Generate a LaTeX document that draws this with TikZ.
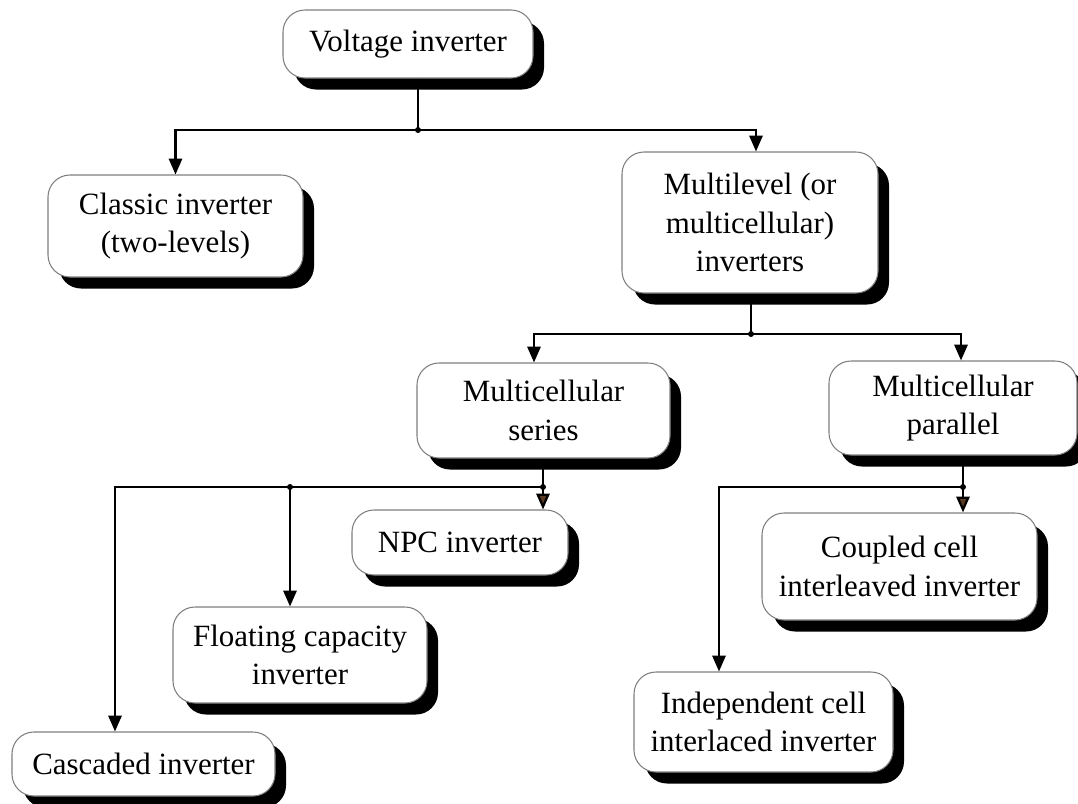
\documentclass[tikz,border=0pt]{standalone}
\usepackage{fontspec}
\setmainfont{Liberation Serif}
\usetikzlibrary{arrows.meta,shadows}
\definecolor{invEdge}{HTML}{7F7F7F}
\definecolor{invTip}{HTML}{5A3A22}
\tikzset{
  inv box/.style={draw=invEdge, line width=0.6pt, fill=white, rounded corners=4.4mm,
    align=center, inner sep=0pt, font=\fontsize{17.6}{22}\selectfont,
    drop shadow={shadow xshift=2.2mm, shadow yshift=-2.3mm, fill=black, opacity=1}},
  inv line/.style={draw=black, line width=1.3pt},
  inv link/.style={inv line, -{Triangle[length=9pt,width=7.5pt]}},
  inv link brown/.style={inv line, -{Triangle[length=9pt,width=7.5pt,fill=invTip]}},
  inv dot/.style={fill=black},
}
\begin{document}
\begin{tikzpicture}[x=0.2mm, y=-0.2mm]
  \useasboundingbox (0,0) rectangle (1078,803);
  % Boxes, top level
  \node[inv box, minimum width=50mm, minimum height=13.6mm] (volt) at (408,44) {Voltage inverter};
  \node[inv box, minimum width=51mm, minimum height=20.4mm] (classic) at (175.5,226) {Classic inverter\\(two-levels)};
  \node[inv box, minimum width=51.2mm, minimum height=28.2mm] (multi) at (750,222.5) {Multilevel (or\\multicellular)\\inverters};
  % Boxes, second level
  \node[inv box, minimum width=50.6mm, minimum height=19mm] (series) at (543.5,410.5) {Multicellular\\series};
  \node[inv box, minimum width=49.6mm, minimum height=18.8mm] (parallel) at (953,408) {Multicellular\\parallel};
  % Boxes, third level
  \node[inv box, minimum width=43.2mm, minimum height=13mm] (npc) at (460,542.5) {NPC inverter};
  \node[inv box, minimum width=50.8mm, minimum height=19.2mm] (floating) at (300,655) {Floating capacity\\inverter};
  \node[inv box, minimum width=52.6mm, minimum height=12.8mm] (cascaded) at (143.5,764) {Cascaded inverter};
  \node[inv box, minimum width=55mm, minimum height=21.4mm] (coupled) at (899.5,566.5) {Coupled cell\\interleaved inverter};
  \node[inv box, minimum width=51.8mm, minimum height=20mm] (indep) at (763.5,722) {Independent cell\\interlaced inverter};
  % Junctions
  \coordinate (jtop) at (418,130);
  \coordinate (jmid) at (751,334);
  \coordinate (jser) at (543,487);
  \coordinate (jfloat) at (290,487);
  \coordinate (jpar) at (963,487);
  % Connectors
  \draw[inv line] (volt.south -| jtop) -- (jtop);
  \draw[inv link] (jtop) -| (classic.north);
  \draw[inv link] (jtop) -| ([xshift=1.2mm]multi.north);
  \draw[inv line] (multi.south -| jmid) -- (jmid);
  \draw[inv link] (jmid) -| ([xshift=-1.9mm]series.north);
  \draw[inv link] (jmid) -| ([xshift=1.6mm]parallel.north);
  \draw[inv line] (series.south -| jser) -- (jser);
  \draw[inv link brown] (jser) -- (npc.north -| jser);
  \draw[inv link] (jser) -| ([xshift=-5.7mm]cascaded.north);
  \draw[inv link] (jfloat) -- (floating.north -| jfloat);
  \draw[inv line] (parallel.south -| jpar) -- (jpar);
  \draw[inv link brown] (jpar) -- (coupled.north -| jpar);
  \draw[inv link] (jpar) -| ([xshift=-8.9mm]indep.north);
  % Dots
  \foreach \j in {jtop,jmid,jser,jfloat,jpar}
    \fill[inv dot] (\j) circle (0.6mm);
\end{tikzpicture}
\end{document}
